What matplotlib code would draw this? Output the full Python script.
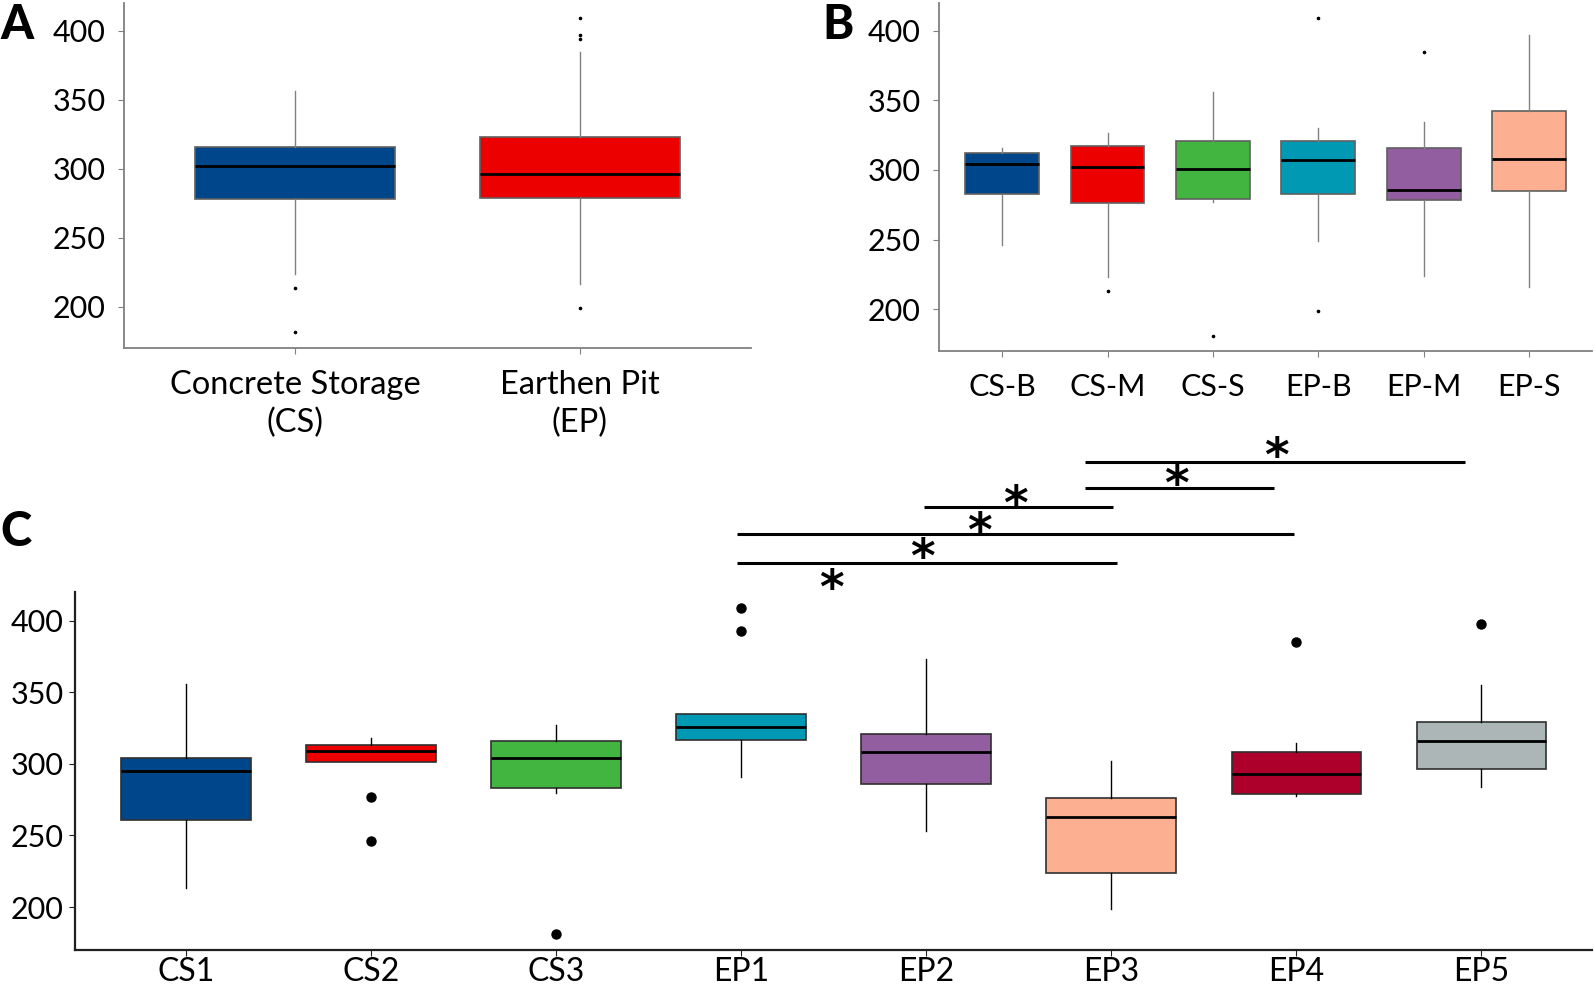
import matplotlib
matplotlib.use('Agg')
from matplotlib import pyplot as plt
from matplotlib.transforms import offset_copy

plt.rcParams['font.family'] = ['Lato', 'DejaVu Sans']

# panel A: storage type
A_labels = ['Concrete Storage\n(CS)', 'Earthen Pit\n(EP)']
A_q1 = [277.8, 279.0]
A_med = [302.0, 296.1]
A_q3 = [315.7, 322.9]
A_lo = [223.4, 216.4]
A_hi = [355.9, 384.3]
A_out = [[213.3, 181.4], [409.2, 396.9, 394.0, 199.3]]
A_col = ['#00468B', '#ED0000']

# panel B: storage type x depth
B_labels = ['CS-B', 'CS-M', 'CS-S', 'EP-B', 'EP-M', 'EP-S']
B_q1 = [283.0, 276.1, 279.0, 283.0, 278.5, 285.0]
B_med = [304.0, 302.2, 301.0, 306.9, 285.9, 308.1]
B_q3 = [311.9, 317.0, 321.0, 320.8, 316.0, 342.5]
B_lo = [246.0, 223.0, 277.0, 249.0, 224.0, 216.0]
B_hi = [315.8, 326.8, 355.9, 329.9, 334.6, 396.7]
B_out = [[], [213.0], [181.0], [409.0, 198.9], [384.6], []]
B_col = ['#00468B', '#ED0000', '#42B540', '#0099B4', '#925E9F', '#FDAF91']

# panel C: individual sites
C_labels = ['CS1', 'CS2', 'CS3', 'EP1', 'EP2', 'EP3', 'EP4', 'EP5']
C_q1 = [260.9, 301.2, 283.0, 317.0, 286.0, 223.9, 279.0, 296.1]
C_med = [295.1, 308.9, 304.1, 326.0, 308.0, 262.8, 292.8, 316.1]
C_q3 = [304.0, 313.0, 315.9, 335.0, 320.9, 275.9, 308.0, 328.9]
C_lo = [213.3, 301.2, 279.3, 291.0, 252.9, 198.6, 277.4, 284.0]
C_hi = [356.0, 317.7, 327.3, 335.0, 373.1, 301.9, 314.8, 355.0]
C_out = [[], [276.9, 246.4], [181.0], [408.6, 393.0], [], [], [385.0], [397.4]]
C_col = ['#00468B', '#ED0000', '#42B540', '#0099B4', '#925E9F', '#FDAF91',
         '#AD002A', '#ADB6B6']

# significance bars in panel C (x in group units, y in data units)
sig_x0 = [5.86, 5.86, 4.99, 3.98, 3.98]
sig_x1 = [7.91, 6.88, 6.01, 6.99, 6.03]
sig_y = [510.8, 492.6, 479.4, 460.5, 440.3]
star_x = [6.89, 6.35, 5.48, 5.29, 4.98, 4.49]
star_y = [521.3, 501.7, 487.7, 468.9, 450.7, 429.1]


def make_stats(q1, med, q3, lo, hi, out):
    return [dict(q1=a, med=b, q3=c, whislo=d, whishi=e, fliers=f)
            for a, b, c, d, e, f in zip(q1, med, q3, lo, hi, out)]


def draw(ax, stats, colors, labels, small, pad_x, pad_y, xsize=22):
    line_col = '#808080' if small else 'black'
    edge_col = '#606060' if small else '#303030'
    res = ax.bxp(stats, positions=range(1, len(stats) + 1), widths=0.7,
                 patch_artist=True, showcaps=False,
                 whiskerprops=dict(color=line_col, lw=1.0),
                 medianprops=dict(color='black', lw=2.0),
                 boxprops=dict(edgecolor=edge_col, lw=1.2),
                 flierprops=dict(marker='o', markerfacecolor='black',
                                 markeredgecolor='black',
                                 markersize=1.6 if small else 6.5))
    for patch, c in zip(res['boxes'], colors):
        patch.set_facecolor(c)
    ax.set_xlim(0.4, len(stats) + 0.6)
    ax.set_ylim(170, 420)
    ax.set_yticks([200, 250, 300, 350, 400])
    ax.set_xticks(range(1, len(stats) + 1))
    ax.set_xticklabels(labels, linespacing=1.3)
    for s in ['top', 'right']:
        ax.spines[s].set_visible(False)
    spine_col = '#808080' if small else '#202020'
    for s in ['left', 'bottom']:
        ax.spines[s].set_color(spine_col)
        ax.spines[s].set_linewidth(1.3 if small else 1.6)
    ax.tick_params(axis='both', labelsize=22, length=4, color=spine_col)
    ax.tick_params(axis='x', pad=pad_x, labelsize=xsize)
    ax.tick_params(axis='y', pad=pad_y)


fig = plt.figure(figsize=(15.94, 9.85), dpi=100)

axA = fig.add_axes([0.0778, 0.6467, 0.3932, 0.3503])
draw(axA, make_stats(A_q1, A_med, A_q3, A_lo, A_hi, A_out), A_col, A_labels,
     True, 12, 9, xsize=23.5)

axB = fig.add_axes([0.589, 0.6437, 0.410, 0.3533])
draw(axB, make_stats(B_q1, B_med, B_q3, B_lo, B_hi, B_out), B_col, B_labels,
     True, 12, 9)

axC = fig.add_axes([0.047, 0.0355, 0.952, 0.3635])
draw(axC, make_stats(C_q1, C_med, C_q3, C_lo, C_hi, C_out), C_col, C_labels,
     False, 1.0, 4, xsize=23)

for x0, x1, y in zip(sig_x0, sig_x1, sig_y):
    axC.plot([x0, x1], [y, y], color='black', lw=2.2, clip_on=False,
             solid_capstyle='butt')
# asterisk ink sits about half an em above the baseline
star_tr = offset_copy(axC.transData, fig=fig, y=-0.5 * 34, units='points')
for x, y in zip(star_x, star_y):
    axC.text(x, y, '*', ha='center', va='baseline', fontsize=34,
             fontweight='bold', family='DejaVu Sans', transform=star_tr,
             clip_on=False)

fig.text(0.0, 0.997, 'A', fontsize=34, fontweight='black', va='top', ha='left')
fig.text(0.516, 0.997, 'B', fontsize=34, fontweight='black', va='top', ha='left')
fig.text(0.0, 0.482, 'C', fontsize=34, fontweight='black', va='top', ha='left')

fig.savefig('out.png', dpi=100)
